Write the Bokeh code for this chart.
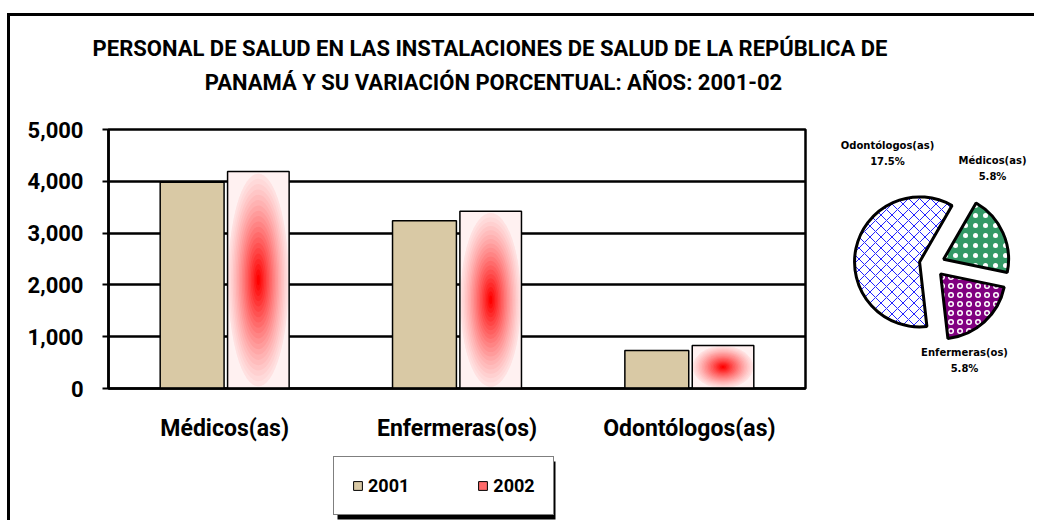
import numpy as np
from bokeh.plotting import figure
from bokeh.models import (ColumnDataSource, FactorRange, Range1d, Legend,
                          LegendItem, NumeralTickFormatter)
from bokeh.transform import dodge
from bokeh.layouts import row, column
from bokeh.embed import file_html
from bokeh.resources import INLINE
from bokeh.core.properties import value

# ---------------- data ----------------
categories = ["Médicos(as)", "Enfermeras(os)", "Odontólogos(as)"]
years = ["2001", "2002"]
personal_2001 = [3980, 3240, 735]
personal_2002 = [4190, 3420, 830]
y_ticks = [0, 1000, 2000, 3000, 4000, 5000]
variacion_pct = [5.8, 5.8, 17.5]
title_lines = ["PERSONAL DE SALUD EN LAS INSTALACIONES DE SALUD DE LA REPÚBLICA DE",
               "PANAMÁ Y SU VARIACIÓN PORCENTUAL: AÑOS: 2001-02"]

# ---------------- style ----------------
FONT = "Roboto"
TAN = "#d9c9a5"
WT = 1024          # full content width
W1, W2 = 810, 212  # bar chart / pie widths
HT, HB, HL = 94, 340, 70
MB_TOP, MB_BOT = 19, 62


def blank(fig):
    fig.axis.visible = False
    fig.grid.visible = False
    fig.outline_line_color = None
    fig.background_fill_color = "white"
    fig.border_fill_color = "white"


# ---------------- title ----------------
tfig = figure(width=WT, height=HT, x_range=Range1d(0, WT), y_range=Range1d(0, HT),
              output_backend="svg", toolbar_location=None, min_border=0)
blank(tfig)
tfig.text(x=[479.5, 483], y=[62, 28], text=title_lines, text_align="center",
          text_baseline="middle", text_font=value(FONT), text_font_size="22px",
          text_font_style="bold", text_color="black")

# ---------------- bar chart ----------------
p = figure(x_range=FactorRange(factors=categories, range_padding=0),
           y_range=Range1d(0, 5000), width=W1, height=HB,
           output_backend="svg", toolbar_location=None,
           min_border_left=98, min_border_right=15, min_border_top=MB_TOP,
           min_border_bottom=MB_BOT)
p.background_fill_color = "white"
p.border_fill_color = "white"
p.outline_line_color = "black"
p.outline_line_width = 2.5

p.xgrid.grid_line_color = None
p.ygrid.grid_line_color = "black"
p.ygrid.grid_line_width = 2.5

p.yaxis.ticker = y_ticks
p.yaxis.formatter = NumeralTickFormatter(format="0,0")
p.yaxis.axis_line_width = 2.5
p.yaxis.major_tick_line_width = 2
p.yaxis.major_tick_out = 6
p.yaxis.major_tick_in = 0
p.yaxis.minor_tick_line_color = None
p.yaxis.major_label_standoff = 19
p.yaxis.major_label_text_font = FONT
p.yaxis.major_label_text_font_size = "22px"
p.yaxis.major_label_text_font_style = "bold"
p.yaxis.major_label_text_color = "black"

p.xaxis.axis_line_width = 2.5
p.xaxis.major_tick_line_color = None
p.xaxis.major_tick_out = 0
p.xaxis.major_tick_in = 0
p.xaxis.major_label_standoff = 26
p.xaxis.major_label_text_font = FONT
p.xaxis.major_label_text_font_size = "23px"
p.xaxis.major_label_text_font_style = "bold"
p.xaxis.major_label_text_color = "black"

BW1, BW2 = 0.275, 0.265
OFF1, OFF2 = -0.14, 0.145

src = ColumnDataSource(dict(cat=categories, v1=personal_2001, v2=personal_2002))
p.vbar(x=dodge("cat", OFF1, range=p.x_range), top="v1", width=BW1, source=src,
       fill_color=TAN, line_color="black", line_width=1.5)

# centre-out gradient of the 2002 bars: pale base + nested ellipses of each bar
p.vbar(x=dodge("cat", OFF2, range=p.x_range), top="v2", width=BW2, source=src,
       fill_color="#fff1f1", line_color=None)
v2 = np.array(personal_2002, dtype=float)
n_layers = 22
for k in range(n_layers):
    s = 1.08 - 1.08 * k / n_layers
    t = (k / (n_layers - 1)) ** 1.25
    g = int(round(238 * (1 - t)))
    col = "#%02x%02x%02x" % (255, g, g)
    lay = ColumnDataSource(dict(cat=categories, yc=v2 / 2, h=v2 * min(s, 0.98)))
    p.ellipse(x=dodge("cat", OFF2, range=p.x_range), y="yc", width=BW2 * min(s, 0.98),
              height="h", source=lay, fill_color=col, line_color=None)
p.vbar(x=dodge("cat", OFF2, range=p.x_range), top="v2", width=BW2, source=src,
       fill_color=None, line_color="black", line_width=1.5)

# ---------------- pie of percentage variation ----------------
pie = figure(width=W2, height=HB, x_range=Range1d(0, W2), y_range=Range1d(0, HB - MB_TOP - MB_BOT),
             output_backend="svg", toolbar_location=None, min_border_left=0,
             min_border_right=0, min_border_top=MB_TOP, min_border_bottom=MB_BOT)
blank(pie)

CX, CY, R, EXPLODE = 111.5, 124, 65, 12.7
START = np.deg2rad(60)
vals = np.array(variacion_pct, dtype=float)
fr = vals / vals.sum()
cum = np.concatenate([[0], np.cumsum(fr)[:-1]])
starts = START - cum * 2 * np.pi
ends = starts - fr * 2 * np.pi
mids = (starts + ends) / 2
fills = ["#339966", "#800080", "white"]
hpat = ["dot", "ring", "diagonal_cross"]
hcol = ["white", "white", "#2222ff"]
hscale = [10, 9, 11]
hweight = [1.5, 1.5, 1]
for i in range(len(vals)):
    pie.wedge(x=CX + EXPLODE * np.cos(mids[i]), y=CY + EXPLODE * np.sin(mids[i]), radius=R,
              start_angle=starts[i], end_angle=ends[i], direction="clock",
              fill_color=fills[i], hatch_pattern=hpat[i], hatch_color=hcol[i],
              hatch_scale=hscale[i], hatch_weight=hweight[i],
              line_color="black", line_width=3)

label_pos = [(172, 228), (144, 36), (67, 243)]
for i in range(len(vals)):
    lx, ly = label_pos[i]
    pie.text(x=[lx, lx], y=[ly, ly - 16], text=[categories[i], "%.1f%%" % vals[i]],
             text_align="center", text_baseline="middle",
             text_font=value("DejaVu Sans"), text_font_size="10px",
             text_font_style="bold", text_color="black")

# ---------------- legend ----------------
lfig = figure(width=WT, height=HL, x_range=Range1d(0, WT), y_range=Range1d(0, HL),
              output_backend="svg", toolbar_location=None, min_border=0)
blank(lfig)
LX, LY, LW, LH = 323, 5, 218, 58
# drop shadow of the legend box
lfig.quad(left=[LX + 4], right=[LX + 4 + LW], bottom=[LY - 4], top=[LY - 4 + LH],
          fill_color="black", line_color=None)
# legend proxies (kept off-canvas, only their swatches are shown)
r1 = lfig.quad(left=[-30], right=[-20], bottom=[-30], top=[-20], fill_color=TAN,
               line_color="black", line_width=1)
r2 = lfig.quad(left=[-30], right=[-20], bottom=[-30], top=[-20], fill_color="#ff6a6a",
               line_color="black", line_width=1)

legend = Legend(items=[LegendItem(label=years[0], renderers=[r1]),
                       LegendItem(label=years[1], renderers=[r2])],
                location=(LX, LY), orientation="horizontal", margin=0, padding=18,
                spacing=68, glyph_width=11, glyph_height=11, label_standoff=5,
                label_height=20, label_text_font=FONT, label_text_font_size="18px",
                label_text_font_style="bold", label_text_color="black",
                background_fill_color="white", background_fill_alpha=1.0,
                border_line_color="black", border_line_width=1.5)
lfig.add_layout(legend, "center")

layout = column(tfig, row(p, pie), lfig,
                styles={"border-left": "3px solid black",
                        "border-top": "3px solid black",
                        "margin-left": "7px", "margin-top": "13px"})

open("out.html", "w").write(file_html(layout, INLINE))
